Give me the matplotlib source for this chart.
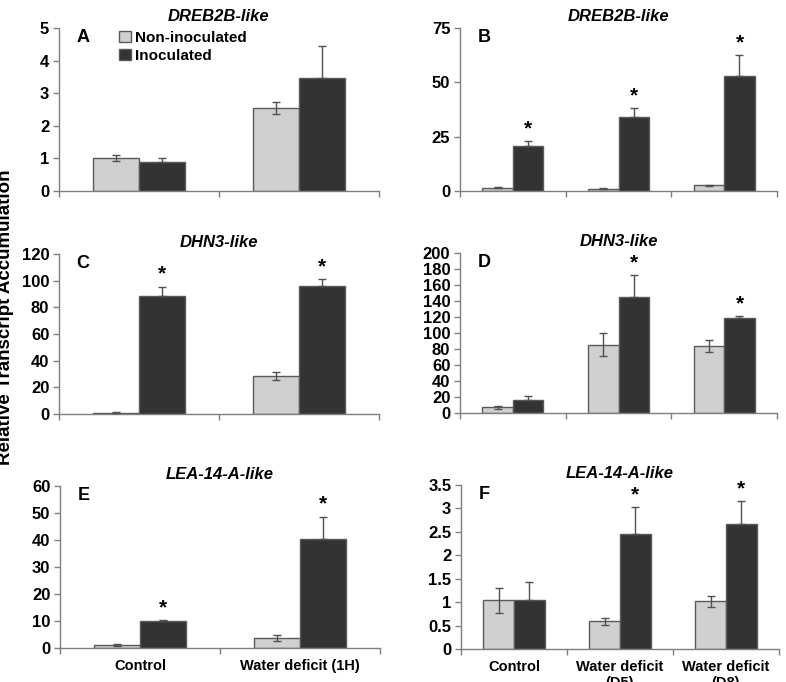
import matplotlib.pyplot as plt
import numpy as np

plt.rcParams['font.family'] = ['Liberation Sans', 'DejaVu Sans']
plt.rcParams['font.weight'] = 'bold'

W, H = 786, 682

light = '#d0d0d0'
dark = '#333333'
edge = '#5a5a5a'
axcol = '#7f7f7f'

# --- data -----------------------------------------------------------------
genes = ['DREB2B-like', 'DREB2B-like', 'DHN3-like', 'DHN3-like',
         'LEA-14-A-like', 'LEA-14-A-like']
letters = ['A', 'B', 'C', 'D', 'E', 'F']
cats_left = ['Control', 'Water deficit (1H)']
cats_right = ['Control', 'Water deficit\n(D5)', 'Water deficit\n(D8)']

non_A = [1.01, 2.54]
non_A_err = [0.09, 0.18]
ino_A = [0.90, 3.48]
ino_A_err = [0.10, 0.98]
sig_A = [False, False]

non_B = [1.5, 1.1, 2.6]
non_B_err = [0.2, 0.2, 0.3]
ino_B = [20.6, 33.9, 52.8]
ino_B_err = [2.2, 4.1, 9.6]
sig_B = [True, True, True]

non_C = [1.0, 28.5]
non_C_err = [0.2, 3.0]
ino_C = [88.5, 96.2]
ino_C_err = [7.0, 4.8]
sig_C = [True, True]

non_D = [7.0, 85.4, 83.7]
non_D_err = [2.0, 14.0, 7.5]
ino_D = [16.3, 145.6, 118.8]
ino_D_err = [4.6, 26.8, 2.0]
sig_D = [False, True, True]

non_E = [1.2, 3.7]
non_E_err = [0.3, 1.0]
ino_E = [10.1, 40.5]
ino_E_err = [0.3, 8.1]
sig_E = [True, True]

non_F = [1.04, 0.59, 1.02]
non_F_err = [0.27, 0.08, 0.12]
ino_F = [1.04, 2.46, 2.67]
ino_F_err = [0.39, 0.57, 0.48]
sig_F = [False, True, True]

panels = [
    (non_A, non_A_err, ino_A, ino_A_err, sig_A, 5, 1, cats_left),
    (non_B, non_B_err, ino_B, ino_B_err, sig_B, 75, 25, cats_right),
    (non_C, non_C_err, ino_C, ino_C_err, sig_C, 120, 20, cats_left),
    (non_D, non_D_err, ino_D, ino_D_err, sig_D, 200, 20, cats_right),
    (non_E, non_E_err, ino_E, ino_E_err, sig_E, 60, 10, cats_left),
    (non_F, non_F_err, ino_F, ino_F_err, sig_F, 3.5, 0.5, cats_right),
]

# axes boxes in pixels: left, right, top, bottom
boxes = [(59, 379, 28, 191), (460, 777, 28, 191),
         (59, 379, 254, 414), (460, 777, 253, 413),
         (60, 380, 486, 648), (461, 779, 485, 649)]

fig = plt.figure(figsize=(W / 100, H / 100), dpi=100)

bw = 0.29
for i, (non, non_err, ino, ino_err, sig, ymax, step, cats) in enumerate(panels):
    l, r, t, b = boxes[i]
    ax = fig.add_axes([l / W, 1 - b / H, (r - l) / W, (b - t) / H])
    n = len(non)
    x = np.arange(n) + 0.5
    ax.bar(x - bw / 2, non, bw, color=light, edgecolor=edge, linewidth=1,
           label='Non-inoculated', zorder=2)
    ax.bar(x + bw / 2, ino, bw, color=dark, edgecolor=edge, linewidth=1,
           label='Inoculated', zorder=2)
    ax.errorbar(x - bw / 2, non, yerr=non_err, fmt='none', ecolor='#505050',
                elinewidth=1, capsize=3, capthick=1, zorder=3)
    ax.errorbar(x + bw / 2, ino, yerr=[np.zeros(n), ino_err], fmt='none',
                ecolor='#505050', elinewidth=1, capsize=3, capthick=1, zorder=3)
    for j in range(n):
        if sig[j]:
            ax.annotate('*', (x[j] + bw / 2, ino[j] + ino_err[j]),
                        xytext=(0, 7), textcoords='offset pixels',
                        ha='center', va='baseline', fontsize=15,
                        fontweight='bold')

    ax.set_xlim(0, n)
    ax.set_ylim(0, ymax)
    ax.set_yticks(np.arange(0, ymax + step / 2, step))
    ax.yaxis.set_major_formatter(plt.FuncFormatter(lambda v, p: '%g' % v))
    ax.set_xticks(np.arange(n + 1))
    ax.set_xticklabels([])
    if i >= 4:
        ax.set_xticks(x, minor=True)
        ax.set_xticklabels(cats, minor=True, fontsize=10.5, fontweight='bold')
        ax.tick_params(axis='x', which='minor', length=0, pad=8)
    for s in ['top', 'right']:
        ax.spines[s].set_visible(False)
    for s in ['left', 'bottom']:
        ax.spines[s].set_color(axcol)
        ax.spines[s].set_linewidth(1)
    ax.tick_params(axis='both', which='major', direction='out', length=4,
                   width=1, color=axcol, labelsize=12, pad=3)
    for lab in ax.get_yticklabels():
        lab.set_fontweight('bold')
    ax.set_title(genes[i], fontsize=12, fontweight='bold', style='italic',
                 pad=5)
    ax.text(0.055, 0.995, letters[i], transform=ax.transAxes, ha='left',
            va='top', fontsize=13, fontweight='bold')
    if i == 0:
        ax.legend(loc='upper left', bbox_to_anchor=(0.165, 1.03),
                  frameon=False, handlelength=0.75, handleheight=0.75,
                  handletextpad=0.3, labelspacing=0.25, borderpad=0,
                  prop={'weight': 'bold', 'size': 11})

fig.text(6 / W, 1 - 317 / H, 'Relative Transcript Accumulation',
         rotation=90, ha='center', va='center', fontsize=13.5,
         fontweight='bold')

fig.savefig('out.png', dpi=100)
